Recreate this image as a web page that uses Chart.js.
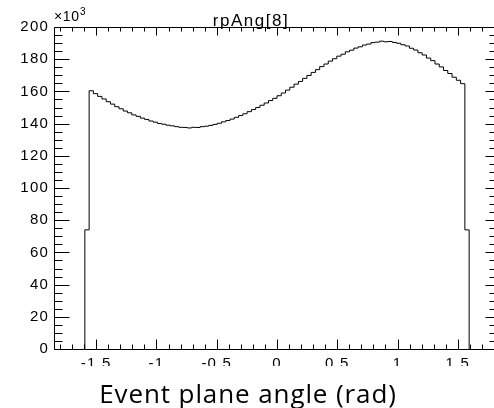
<!DOCTYPE html>
<html><head><meta charset="utf-8">
<script src="https://cdn.jsdelivr.net/npm/chart.js@4.4.1/dist/chart.umd.min.js"></script>
<style>
html,body{margin:0;padding:0;background:#fff;overflow:hidden;width:494px;height:408px;}
#wrap{position:relative;width:502px;height:408px;}
canvas{display:block;}
</style></head><body>
<div id="wrap"><canvas id="c" width="502" height="408"></canvas></div>
<script>
// ---- data ----
const histTitle = 'rpAng[8]';
const xTitle = 'Event plane angle (rad)';
const yMultiplier = '×10';
const yExponent = '3';
const histLow = -1.594;
const histHigh = 1.594;
// bin contents, in units of 10^3
const counts = [
  74.0, 160.4, 158.6, 156.9, 155.3, 153.6, 152.1, 150.5, 149.2, 147.8,
  146.7, 145.4, 144.5, 143.4, 142.6, 141.6, 140.9, 140.1, 139.6, 139.0,
  138.6, 138.1, 137.7, 137.6, 137.3, 137.7, 137.6, 138.1, 138.4, 138.9,
  139.5, 140.2, 141.1, 141.9, 142.8, 143.9, 145.0, 146.1, 147.4, 148.7,
  150.0, 151.4, 152.8, 154.3, 155.7, 157.3, 159.0, 160.8, 162.6, 164.5,
  166.2, 168.1, 169.9, 171.8, 173.5, 175.4, 177.0, 178.8, 180.3, 181.9,
  183.1, 184.6, 185.6, 186.9, 187.7, 188.8, 189.4, 190.3, 190.6, 191.2,
  190.8, 191.0, 190.4, 189.9, 189.0, 188.2, 186.8, 185.7, 184.0, 182.6,
  180.7, 179.1, 177.0, 175.2, 173.0, 171.1, 168.8, 166.9, 164.8, 74.0
];
const xRange = [-1.85, 1.85];
const yRange = [0, 200];
const xTickValues = [-1.5, -1, -0.5, 0, 0.5, 1, 1.5];
const xTickLabels = ['-1.5', '-1', '-0.5', '0', '0.5', '1', '1.5'];
const yTickValues = [0, 20, 40, 60, 80, 100, 120, 140, 160, 180, 200];
const yTickLabels = ['0', '20', '40', '60', '80', '100', '120', '140', '160', '180', '200'];
const xMinorStep = 0.1;
const yMinorStep = 5;

// ---- build step outline from bins ----
const binW = (histHigh - histLow) / counts.length;
const outline = [{x: histLow, y: 0}];
counts.forEach((v, i) => outline.push({x: histLow + i * binW, y: v}));
outline.push({x: histHigh, y: 0});

const FONT = 'Liberation Sans';

const rootStyle = {
  id: 'rootStyle',
  beforeDraw(chart) { chart.ctx.letterSpacing = '1.2px'; },
  afterDatasetsDraw(chart) {
    const {ctx, chartArea: a, scales: {x, y}} = chart;
    ctx.save();
    ctx.strokeStyle = '#000';
    ctx.lineWidth = 1;
    const L = Math.round(a.left) + 0.5, R = Math.round(a.right) + 0.5;
    const T = Math.round(a.top) + 0.5, B = Math.round(a.bottom) + 0.5;
    ctx.beginPath();
    ctx.rect(L, T, R - L, B - T);
    const isMajor = (v, arr) => arr.some(m => Math.abs(m - v) < 1e-6);
    // x ticks (bottom & top)
    for (let v = Math.ceil(xRange[0] / xMinorStep) * xMinorStep; v <= xRange[1] + 1e-9; v += xMinorStep) {
      const major = isMajor(v, xTickValues);
      const px = Math.round(x.getPixelForValue(v)) + 0.5;
      ctx.moveTo(px, B); ctx.lineTo(px, B - (major ? 10 : 5));
      ctx.moveTo(px, T); ctx.lineTo(px, T + (major ? 8 : 4));
    }
    // y ticks (left & right)
    for (let v = yRange[0]; v <= yRange[1] + 1e-9; v += yMinorStep) {
      const major = isMajor(v, yTickValues);
      const py = Math.round(y.getPixelForValue(v)) + 0.5;
      ctx.moveTo(L, py); ctx.lineTo(L + (major ? 15 : 8), py);
      ctx.moveTo(R, py); ctx.lineTo(R - (major ? 15 : 11), py);
    }
    ctx.stroke();
    ctx.restore();
  },
  afterDraw(chart) {
    const {ctx} = chart;
    ctx.save();
    // histogram title
    ctx.letterSpacing = '1.5px';
    ctx.fillStyle = '#000';
    ctx.font = '17px "' + FONT + '"';
    ctx.textAlign = 'center';
    ctx.textBaseline = 'alphabetic';
    ctx.fillText(histTitle, 251, 26);
    // axis multiplier
    ctx.textAlign = 'left';
    ctx.letterSpacing = '0.6px';
    ctx.font = '14px "' + FONT + '"';
    ctx.fillText(yMultiplier, 54, 21);
    ctx.font = '10px "' + FONT + '"';
    ctx.fillText(yExponent, 80, 15);
    // x axis title on white box
    ctx.letterSpacing = '0px';
    ctx.fillStyle = '#fff';
    ctx.fillRect(0, 366, chart.width, chart.height - 366);
    ctx.fillStyle = '#000';
    ctx.letterSpacing = '0.9px';
    ctx.font = '26px "Open Sans"';
    ctx.textAlign = 'center';
    ctx.fillText(xTitle, 248, 403);
    ctx.restore();
  }
};

new Chart(document.getElementById('c'), {
  type: 'scatter',
  data: {
    datasets: [{
      data: outline,
      showLine: true,
      stepped: 'before',
      borderColor: '#000',
      borderWidth: 1,
      pointRadius: 0,
      pointHoverRadius: 0,
      fill: false,
      tension: 0
    }]
  },
  options: {
    responsive: false,
    animation: false,
    devicePixelRatio: 1,
    layout: {padding: {top: 27, right: 2, left: 0, bottom: 0}},
    plugins: {legend: {display: false}, tooltip: {enabled: false}, title: {display: false}},
    scales: {
      x: {
        type: 'linear', position: 'bottom', min: xRange[0], max: xRange[1],
        grid: {display: false, drawTicks: false}, border: {display: false},
        afterBuildTicks: s => { s.ticks = xTickValues.map(v => ({value: v})); },
        afterFit: s => { s.height = 59; },
        ticks: {
          padding: 6, color: '#000', maxRotation: 0, autoSkip: false,
          font: {family: FONT, size: 15},
          callback: v => { const i = xTickValues.indexOf(v); return i >= 0 ? xTickLabels[i] : ''; }
        }
      },
      y: {
        type: 'linear', position: 'left', min: yRange[0], max: yRange[1],
        grid: {display: false, drawTicks: false}, border: {display: false},
        afterBuildTicks: s => { s.ticks = yTickValues.map(v => ({value: v})); },
        afterFit: s => { s.width = 54; },
        ticks: {
          padding: 5, color: '#000', autoSkip: false,
          font: {family: FONT, size: 15},
          callback: v => { const i = yTickValues.indexOf(v); return i >= 0 ? yTickLabels[i] : ''; }
        }
      }
    }
  },
  plugins: [rootStyle]
});
</script>
</body></html>
